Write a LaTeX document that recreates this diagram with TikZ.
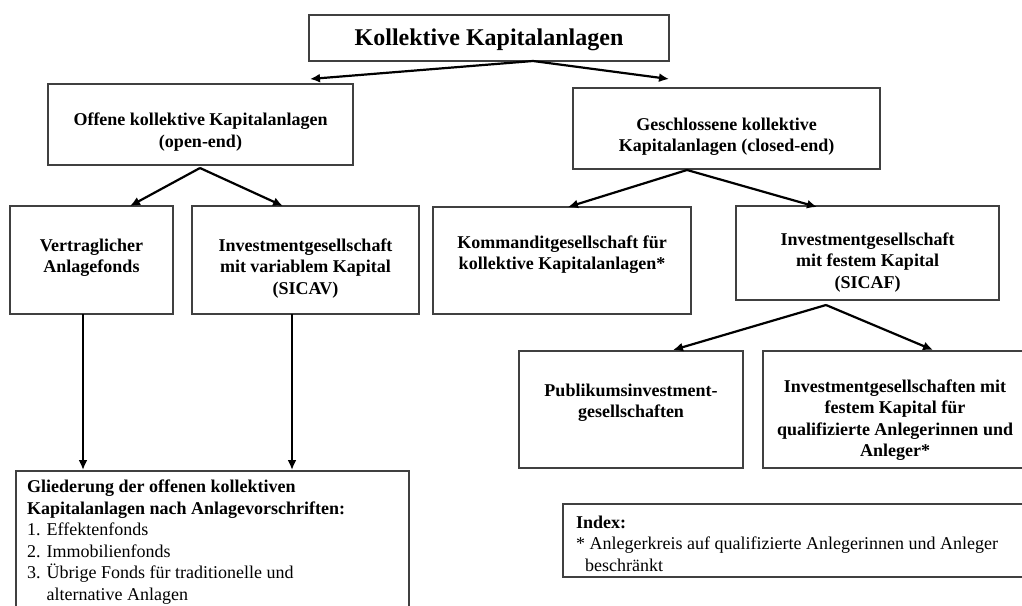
\documentclass[tikz,border=0pt]{standalone}
\usepackage{fontspec}
\setmainfont{Liberation Serif}
\usetikzlibrary{arrows.meta}
\definecolor{boxgray}{HTML}{404040}
\begin{document}
\begin{tikzpicture}[x=1pt,y=-1pt,
  box/.style={draw=boxgray, line width=1.2pt, inner sep=0pt, fill=none},
  txt/.style={inner sep=0pt, font=\fontsize{18}{21.6}\selectfont\bfseries},
  plain/.style={inner sep=0pt, font=\fontsize{18}{21.6}\selectfont},
  arr/.style={line width=2.2pt, -{Latex[length=10pt,width=9pt]}},
  vline/.style={line width=2.2pt, -{Latex[length=10pt,width=9pt]}}]
\useasboundingbox (0,0) rectangle (1022,605);
\fill[white] (0,0) rectangle (1022,605);

% boxes
\node[box, minimum width=360pt, minimum height=46pt] (top) at (489,38) {};
\node[box, minimum width=305pt, minimum height=81pt] (off) at (200.5,124.5) {};
\node[box, minimum width=307pt, minimum height=81pt] (ges) at (726.5,128.5) {};
\node[box, minimum width=163pt, minimum height=108pt] (ver) at (91.5,260) {};
\node[box, minimum width=227pt, minimum height=108pt] (sicav) at (305.5,260) {};
\node[box, minimum width=258pt, minimum height=107pt] (kom) at (562,260.5) {};
\node[box, minimum width=263pt, minimum height=94pt] (sicaf) at (867.5,253) {};
\node[box, minimum width=224pt, minimum height=117pt] (pub) at (631,409.5) {};
\node[box, minimum width=264pt, minimum height=117pt] (qual) at (895,409.5) {};
\node[box, minimum width=393pt, minimum height=150pt] (glied) at (212.5,546) {};
\node[box, minimum width=470pt, minimum height=73pt] (idx) at (798,540.5) {};

% texts
\node[anchor=base, inner sep=0pt, font=\fontsize{24}{28}\selectfont\bfseries] (topT) at (489,45.5) {Kollektive Kapitalanlagen};
\node[txt, anchor=base] (offT) at (200.5,125.5) {\begin{tabular}[t]{@{}c@{}}Offene kollektive Kapitalanlagen\\(open-end)\end{tabular}};
\node[txt, anchor=base] (gesT) at (726.5,130) {\begin{tabular}[t]{@{}c@{}}Geschlossene kollektive\\Kapitalanlagen (closed-end)\end{tabular}};
\node[txt, anchor=base] (verT) at (91.5,251) {\begin{tabular}[t]{@{}c@{}}Vertraglicher\\Anlagefonds\end{tabular}};
\node[txt, anchor=base] (sicavT) at (305.5,251) {\begin{tabular}[t]{@{}c@{}}Investmentgesellschaft\\mit variablem Kapital\\(SICAV)\end{tabular}};
\node[txt, anchor=base] (komT) at (562,248) {\begin{tabular}[t]{@{}c@{}}Kommanditgesellschaft für\\kollektive Kapitalanlagen*\end{tabular}};
\node[txt, anchor=base] (sicafT) at (867.5,245) {\begin{tabular}[t]{@{}c@{}}Investmentgesellschaft\\mit festem Kapital\\(SICAF)\end{tabular}};
\node[txt, anchor=base] (pubT) at (631,396) {\begin{tabular}[t]{@{}c@{}}Publikumsinvestment-\\gesellschaften\end{tabular}};
\node[txt, anchor=base] (qualT) at (895,392) {\begin{tabular}[t]{@{}c@{}}Investmentgesellschaften mit\\festem Kapital für\\qualifizierte Anlegerinnen und\\Anleger*\end{tabular}};
\node[plain, anchor=base west] (gliedT) at (27,492.5) {\begin{tabular}[t]{@{}l@{}}\textbf{Gliederung der offenen kollektiven}\\\textbf{Kapitalanlagen nach Anlagevorschriften:}\\1. Effektenfonds\\2. Immobilienfonds\\3. Übrige Fonds für traditionelle und\\\phantom{3. }alternative Anlagen\end{tabular}};
\node[plain, anchor=base west] (idxT) at (576,528) {\begin{tabular}[t]{@{}l@{}}\textbf{Index:}\\\relax{*} Anlegerkreis auf qualifizierte Anlegerinnen und Anleger\\\hspace{9pt}beschränkt\end{tabular}};

% arrow coordinates
\coordinate (t0) at (533,61);
\coordinate (tL) at (310,79);
\coordinate (tR) at (669,79);
\coordinate (o0) at (200,168);
\coordinate (oL) at (130,206);
\coordinate (oR) at (283,206);
\coordinate (g0) at (687,170);
\coordinate (gL) at (568,207);
\coordinate (gR) at (817,207);
\coordinate (s0) at (826,305);
\coordinate (sL) at (673,350);
\coordinate (sR) at (933,350);
\coordinate (v1a) at (83,314);
\coordinate (v1b) at (83,470);
\coordinate (v2a) at (292,314);
\coordinate (v2b) at (292,470);

\draw[arr] (t0) -- (tL);
\draw[arr] (t0) -- (tR);
\draw[arr] (o0) -- (oL);
\draw[arr] (o0) -- (oR);
\draw[arr] (g0) -- (gL);
\draw[arr] (g0) -- (gR);
\draw[arr] (s0) -- (sL);
\draw[arr] (s0) -- (sR);
\draw[vline] (v1a) -- (v1b);
\draw[vline] (v2a) -- (v2b);
\end{tikzpicture}
\end{document}
